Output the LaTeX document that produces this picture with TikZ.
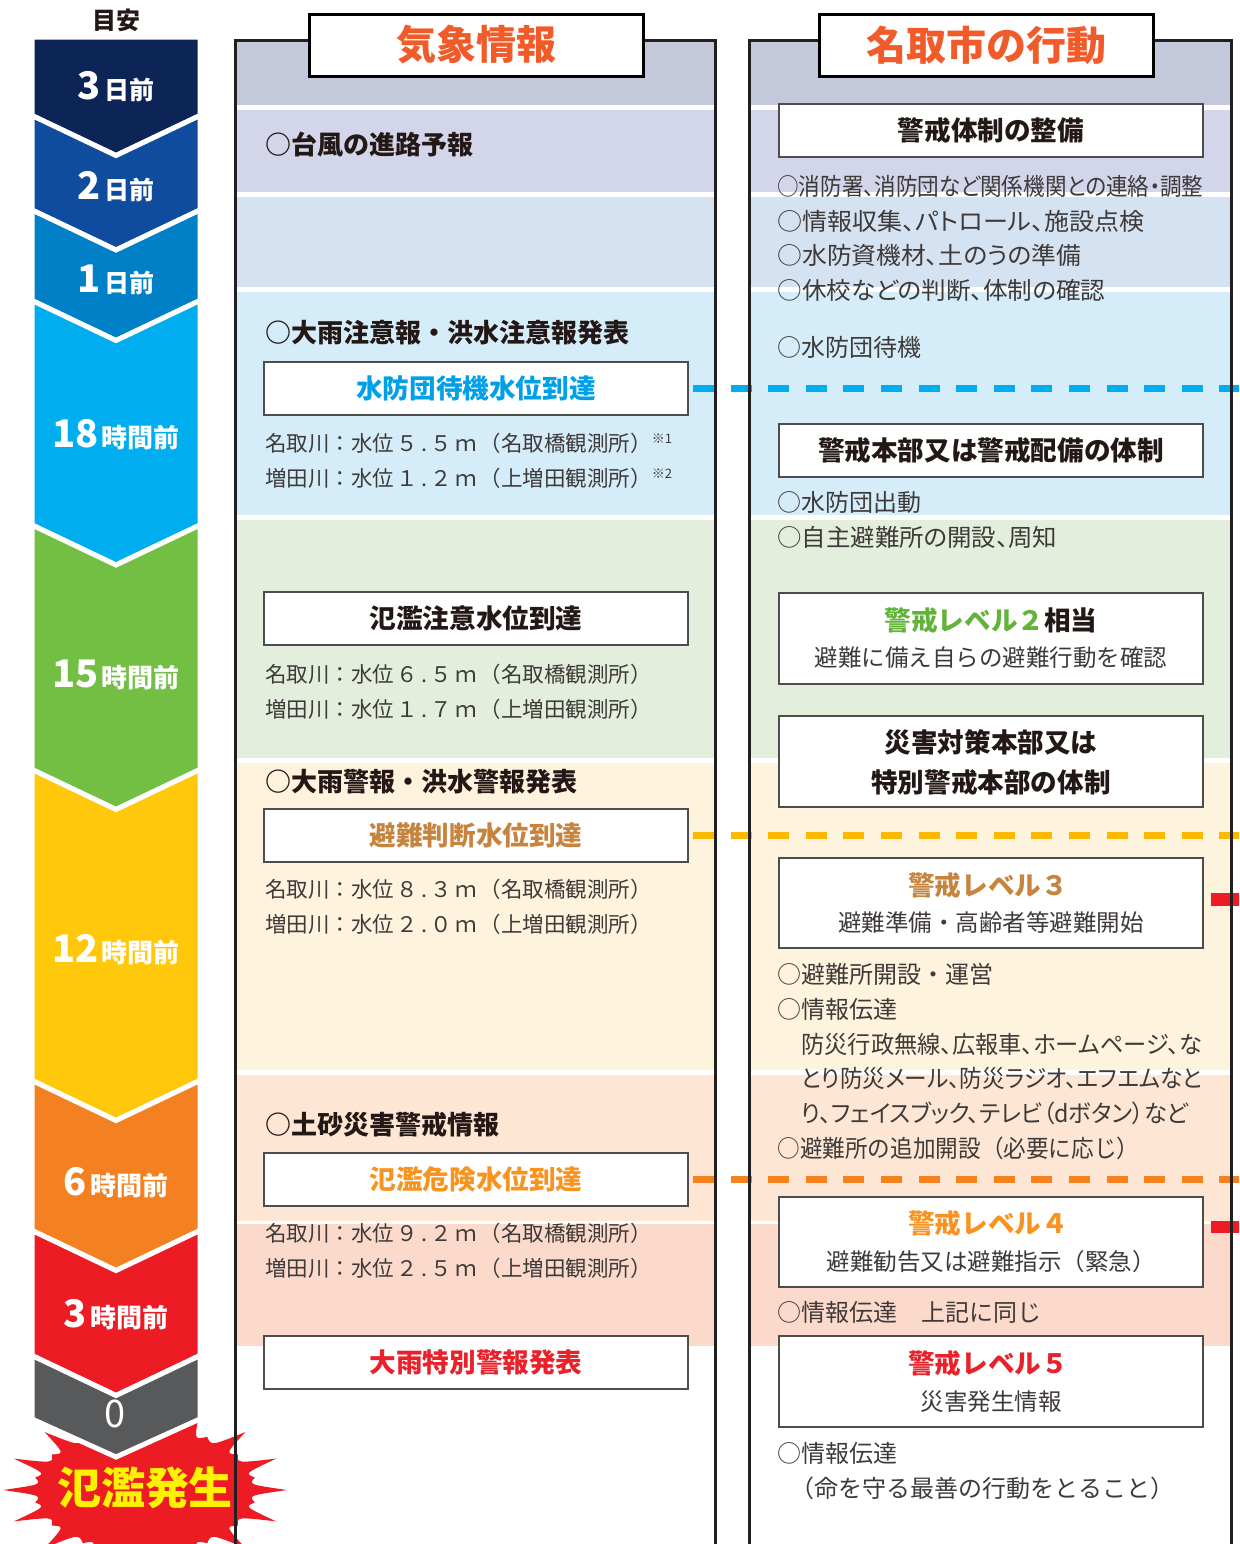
\documentclass[tikz,border=0pt]{standalone}
\usepackage{fontspec}
\usepackage{graphicx}
\setmainfont{Noto Sans CJK JP}
\newfontfamily\jpp{Noto Sans CJK JP}[RawFeature=+palt]
\definecolor{hdrc}{HTML}{F15A29}
\definecolor{bodyc}{HTML}{3E3A39}
\definecolor{headc}{HTML}{231815}
\definecolor{boxln}{HTML}{4D4D4D}
\definecolor{colbd}{HTML}{231F20}
\definecolor{bandH}{HTML}{C3C8DB}
\definecolor{bandA}{HTML}{D3D5EA}
\definecolor{bandB}{HTML}{D5E2F2}
\definecolor{bandC}{HTML}{D5ECF9}
\definecolor{bandD}{HTML}{E3EFDC}
\definecolor{bandE}{HTML}{FEF3DC}
\definecolor{bandF}{HTML}{FDE6D3}
\definecolor{bandG}{HTML}{FBDACC}
\definecolor{cvA}{HTML}{0C2456}
\definecolor{cvB}{HTML}{0F4C9E}
\definecolor{cvC}{HTML}{0080C6}
\definecolor{cvD}{HTML}{00AEEF}
\definecolor{cvE}{HTML}{72BF44}
\definecolor{cvF}{HTML}{FFC80B}
\definecolor{cvG}{HTML}{F48121}
\definecolor{cvH}{HTML}{ED1C24}
\definecolor{cvI}{HTML}{58595B}
\definecolor{starc}{HTML}{ED1C24}
\definecolor{staryel}{HTML}{FFF200}
\definecolor{tblue}{HTML}{00A0E9}
\definecolor{ttan}{HTML}{C7843F}
\definecolor{torange}{HTML}{F7931E}
\definecolor{tred}{HTML}{E8212B}
\definecolor{tgreen}{HTML}{62B33A}
\definecolor{dblue}{HTML}{00AEEF}
\definecolor{dyel}{HTML}{FBBA00}
\definecolor{dorange}{HTML}{F5821F}
\definecolor{mred}{HTML}{ED1C24}
\newcommand\fitw[2]{\resizebox{#1}{\height}{#2}}
\newcommand\chl[2]{{\fontsize{19pt}{21pt}\selectfont #1}\hspace{1.5pt}{\fontsize{12.5pt}{14pt}\selectfont #2}}
\newcommand\chm[2]{{\fontsize{19pt}{21pt}\selectfont #1}\hspace{1.5pt}{\fontsize{13pt}{15pt}\selectfont #2}}
\newcommand\dg[2]{\hspace{1pt}#1\makebox[6.25pt][c]{.}#2\makebox[14pt][c]{ｍ}}
\newcommand\note[1]{\raisebox{4pt}{\fontsize{6.5pt}{7pt}\selectfont #1}}
\newcommand\chevband[4]{\path[chev,fill=#1] (32,#2) -- (116,#2+40) -- (200,#2) -- (200,#3) -- (116,#3+#4) -- (32,#3) -- cycle;}
\begin{document}
\begin{tikzpicture}[x=0.5pt,y=-0.5pt,
  ibox/.style={draw=boxln, line width=1pt, fill=white, inner sep=0pt, minimum width=212pt},
  hbox/.style={draw=black, line width=1.5pt, fill=white, inner sep=0pt, minimum width=167pt, minimum height=31pt, text=hdrc, font=\fontsize{20pt}{22pt}\selectfont\bfseries},
  mtxt/.style={anchor=west, inner sep=0pt, text=bodyc, font=\fontsize{10.75pt}{12pt}\selectfont},
  rtxt/.style={anchor=west, inner sep=0pt, text=bodyc, font=\fontsize{12pt}{14pt}\selectfont},
  mhead/.style={anchor=west, inner sep=0pt, text=headc, font=\fontsize{13pt}{15pt}\selectfont\bfseries},
  btitle/.style={inner sep=0pt, text=headc, font=\fontsize{13.3pt}{15pt}\selectfont\bfseries},
  bsub/.style={inner sep=0pt, text=bodyc, font=\fontsize{11.75pt}{13pt}\selectfont},
  chev/.style={draw=white, line width=2.5pt, line join=miter},
  clab/.style={inner sep=0pt, text=white, font=\bfseries},
  colborder/.style={draw=colbd, line width=1.5pt},
  lvl/.style={dash pattern=on 10.5pt off 8.3pt, line width=3.5pt}]
\useasboundingbox (0,0) rectangle (1239,1544);
\clip (0,0) rectangle (1239,1544);
% ---- column band fills
\foreach \xa/\xb in {236/715,749/1231}{
  \fill[bandH] (\xa,40) rectangle (\xb,105);
  \fill[bandA] (\xa,110) rectangle (\xb,192);
  \fill[bandB] (\xa,197) rectangle (\xb,287);
  \fill[bandC] (\xa,292) rectangle (\xb,515);
  \fill[bandD] (\xa,520) rectangle (\xb,758);
  \fill[bandE] (\xa,763) rectangle (\xb,1070);
  \fill[bandF] (\xa,1075) rectangle (\xb,1221);
  \fill[bandG] (\xa,1224) rectangle (\xb,1346);
}
% ---- starburst
\fill[starc] (287,1490) \foreach \i in {0,...,15}{
  .. controls ({145+104*cos(\i*22.5+5.6)},{1490-57*sin(\i*22.5+5.6)}) .. ({145+112*cos(\i*22.5+11.25)},{1490-64*sin(\i*22.5+11.25)})
  .. controls ({145+104*cos(\i*22.5+16.9)},{1490-57*sin(\i*22.5+16.9)}) .. ({145+142*cos(\i*22.5+22.5)},{1490-82*sin(\i*22.5+22.5)}) } -- cycle;
% ---- boxes in middle column
\node[ibox, minimum height=26.5pt] (mb1) at (476,388.5) {};
\node[ibox, minimum height=26.5pt] (mb2) at (476,618.5) {};
\node[ibox, minimum height=26.5pt] (mb3) at (476,835.5) {};
\node[ibox, minimum height=26.5pt] (mb4) at (476,1179.5) {};
\node[ibox, minimum height=26.5pt] (mb5) at (476,1362.5) {};
% ---- level dashed lines
\coordinate (redge) at (1245,0);
\draw[lvl, draw=dblue] (mb1.east) ++(2pt,0) -- (redge |- mb1.east);
\draw[lvl, draw=dyel] (mb3.east) ++(2pt,0) -- (redge |- mb3.east);
\draw[lvl, draw=dorange] (mb4.east) ++(2pt,0) -- (redge |- mb4.east);
\fill[mred] (1211,893) rectangle (1245,906);
\fill[mred] (1211,1221) rectangle (1245,1233);
% ---- column borders
\draw[colborder] (235,1560) -- (235,40) -- (715,40) -- (715,1560);
\draw[colborder] (749,1560) -- (749,40) -- (1231,40) -- (1231,1560);
\node[hbox] (hk) at (476,45) {気象情報};
\node[hbox] (hn) at (986,45) {名取市の行動};
% ---- middle column texts
\node[mhead] (m1) at (265,145) {○台風の進路予報};
\node[mhead] (m2) at (265,333) {○大雨注意報・洪水注意報発表};
\node[btitle, text=tblue] (mb1t) at (mb1) {水防団待機水位到達};
\node[mtxt] (m3) at (265,443) {名取川：水位\dg{５}{５}（名取橋観測所）\note{※1}};
\node[mtxt] (m4) at (265,478) {増田川：水位\dg{１}{２}（上増田観測所）\note{※2}};
\node[btitle] (mb2t) at (mb2) {氾濫注意水位到達};
\node[mtxt] (m5) at (265,674) {名取川：水位\dg{６}{５}（名取橋観測所）};
\node[mtxt] (m6) at (265,709) {増田川：水位\dg{１}{７}（上増田観測所）};
\node[mhead] (m7) at (265,782) {○大雨警報・洪水警報発表};
\node[btitle, text=ttan] (mb3t) at (mb3) {避難判断水位到達};
\node[mtxt] (m8) at (265,889) {名取川：水位\dg{８}{３}（名取橋観測所）};
\node[mtxt] (m9) at (265,924) {増田川：水位\dg{２}{０}（上増田観測所）};
\node[mhead] (m10) at (265,1125) {○土砂災害警戒情報};
\node[btitle, text=torange] (mb4t) at (mb4) {氾濫危険水位到達};
\node[mtxt] (m11) at (265,1233) {名取川：水位\dg{９}{２}（名取橋観測所）};
\node[mtxt] (m12) at (265,1268) {増田川：水位\dg{２}{５}（上増田観測所）};
\node[btitle, text=tred] (mb5t) at (mb5) {大雨特別警報発表};
% ---- right column boxes
\node[ibox, minimum height=26.5pt] (rb1) at (991,130.5) {};
\node[ibox, minimum height=26.5pt] (rb2) at (991,450.5) {};
\node[ibox, minimum height=45.5pt] (rb3) at (991,638.5) {};
\node[ibox, minimum height=45.5pt] (rb4) at (991,761.5) {};
\node[ibox, minimum height=45pt] (rb5) at (991,903) {};
\node[ibox, minimum height=45pt] (rb6) at (991,1242) {};
\node[ibox, minimum height=45.5pt] (rb7) at (991,1381.5) {};
\node[btitle] (rb1t) at (rb1) {警戒体制の整備};
\node[btitle] (rb2t) at (rb2) {警戒本部又は警戒配備の体制};
\node[btitle] (rb3t) at (991,620) {\textcolor{tgreen}{警戒レベル２}相当};
\node[bsub] (rb3s) at (991,658) {避難に備え自らの避難行動を確認};
\node[btitle] (rb4t) at (991,742) {災害対策本部又は};
\node[btitle] (rb4u) at (991,782) {特別警戒本部の体制};
\node[btitle, text=ttan] (rb5t) at (988,885) {警戒レベル３};
\node[bsub] (rb5s) at (991,923) {避難準備・高齢者等避難開始};
\node[btitle, text=torange] (rb6t) at (988,1223) {警戒レベル４};
\node[bsub] (rb6s) at (991,1262) {避難勧告又は避難指示（緊急）};
\node[btitle, text=tred] (rb7t) at (988,1363) {警戒レベル５};
\node[bsub] (rb7s) at (991,1402) {災害発生情報};
% ---- right column texts
\node[rtxt] (r1) at (777,186) {\fitw{213pt}{\jpp ○消防署、消防団など関係機関との連絡・調整}};
\node[rtxt] (r2) at (777,221) {\fitw{183.5pt}{\jpp ○情報収集、パトロール、施設点検}};
\node[rtxt] (r3) at (777,255) {\fitw{152pt}{\jpp ○水防資機材、土のうの準備}};
\node[rtxt] (r4) at (777,290) {\fitw{164pt}{\jpp ○休校などの判断、体制の確認}};
\node[rtxt] (r5) at (777,347) {○水防団待機};
\node[rtxt] (r6) at (777,502) {○水防団出動};
\node[rtxt] (r7) at (777,537) {\fitw{140pt}{\jpp ○自主避難所の開設、周知}};
\node[rtxt] (r8) at (777,974) {○避難所開設・運営};
\node[rtxt] (r9) at (777,1009) {○情報伝達};
\node[rtxt] (r10) at (801,1044) {\fitw{200.5pt}{\jpp 防災行政無線、広報車、ホームページ、な}};
\node[rtxt] (r11) at (801,1078) {\fitw{200.5pt}{\jpp とり防災メール、防災ラジオ、エフエムなと}};
\node[rtxt] (r12) at (801,1113) {\fitw{193.5pt}{\jpp り、フェイスブック、テレビ（dボタン）など}};
\node[rtxt] (r13) at (777,1148) {\fitw{181pt}{○避難所の追加開設（必要に応じ）}};
\node[rtxt] (r14) at (777,1312) {○情報伝達　上記に同じ};
\node[rtxt] (r15) at (777,1453) {○情報伝達};
\node[rtxt] (r16) at (790,1488) {（命を守る最善の行動をとること）};
% ---- left chevrons
\path[chev,fill=cvA] (32,37) -- (200,37) -- (200,115.5) -- (116,155.5) -- (32,115.5) -- cycle;
\chevband{cvB}{115.5}{210}{40}
\chevband{cvC}{210}{300.5}{40}
\chevband{cvD}{300.5}{525}{40}
\chevband{cvE}{525}{769.5}{40}
\chevband{cvF}{769.5}{1080.5}{40}
\chevband{cvG}{1080.5}{1230.5}{40}
\chevband{cvH}{1230.5}{1355.5}{40}
\chevband{cvI}{1355.5}{1419}{38}
\node[inner sep=0pt, text=headc, font=\fontsize{12pt}{14pt}\selectfont\bfseries] (meyasu) at (116,20) {目安};
\node[clab] (l1) at (116,87) {\chl{3}{日前}};
\node[clab] (l2) at (116,187) {\chl{2}{日前}};
\node[clab] (l3) at (116,280) {\chl{1}{日前}};
\node[clab] (l4) at (116,435) {\chm{18}{時間前}};
\node[clab] (l5) at (116,675) {\chm{15}{時間前}};
\node[clab] (l6) at (116,950) {\chm{12}{時間前}};
\node[clab] (l7) at (116,1183) {\chm{6}{時間前}};
\node[clab] (l8) at (116,1315) {\chm{3}{時間前}};
\node[inner sep=0pt, text=white, font=\fontsize{19pt}{21pt}\selectfont] (l9) at (115,1414) {0};
\node[inner sep=0pt, text=staryel, font=\fontsize{22pt}{24pt}\selectfont\bfseries] (burst) at (145,1488) {氾濫発生};
\end{tikzpicture}
\end{document}
